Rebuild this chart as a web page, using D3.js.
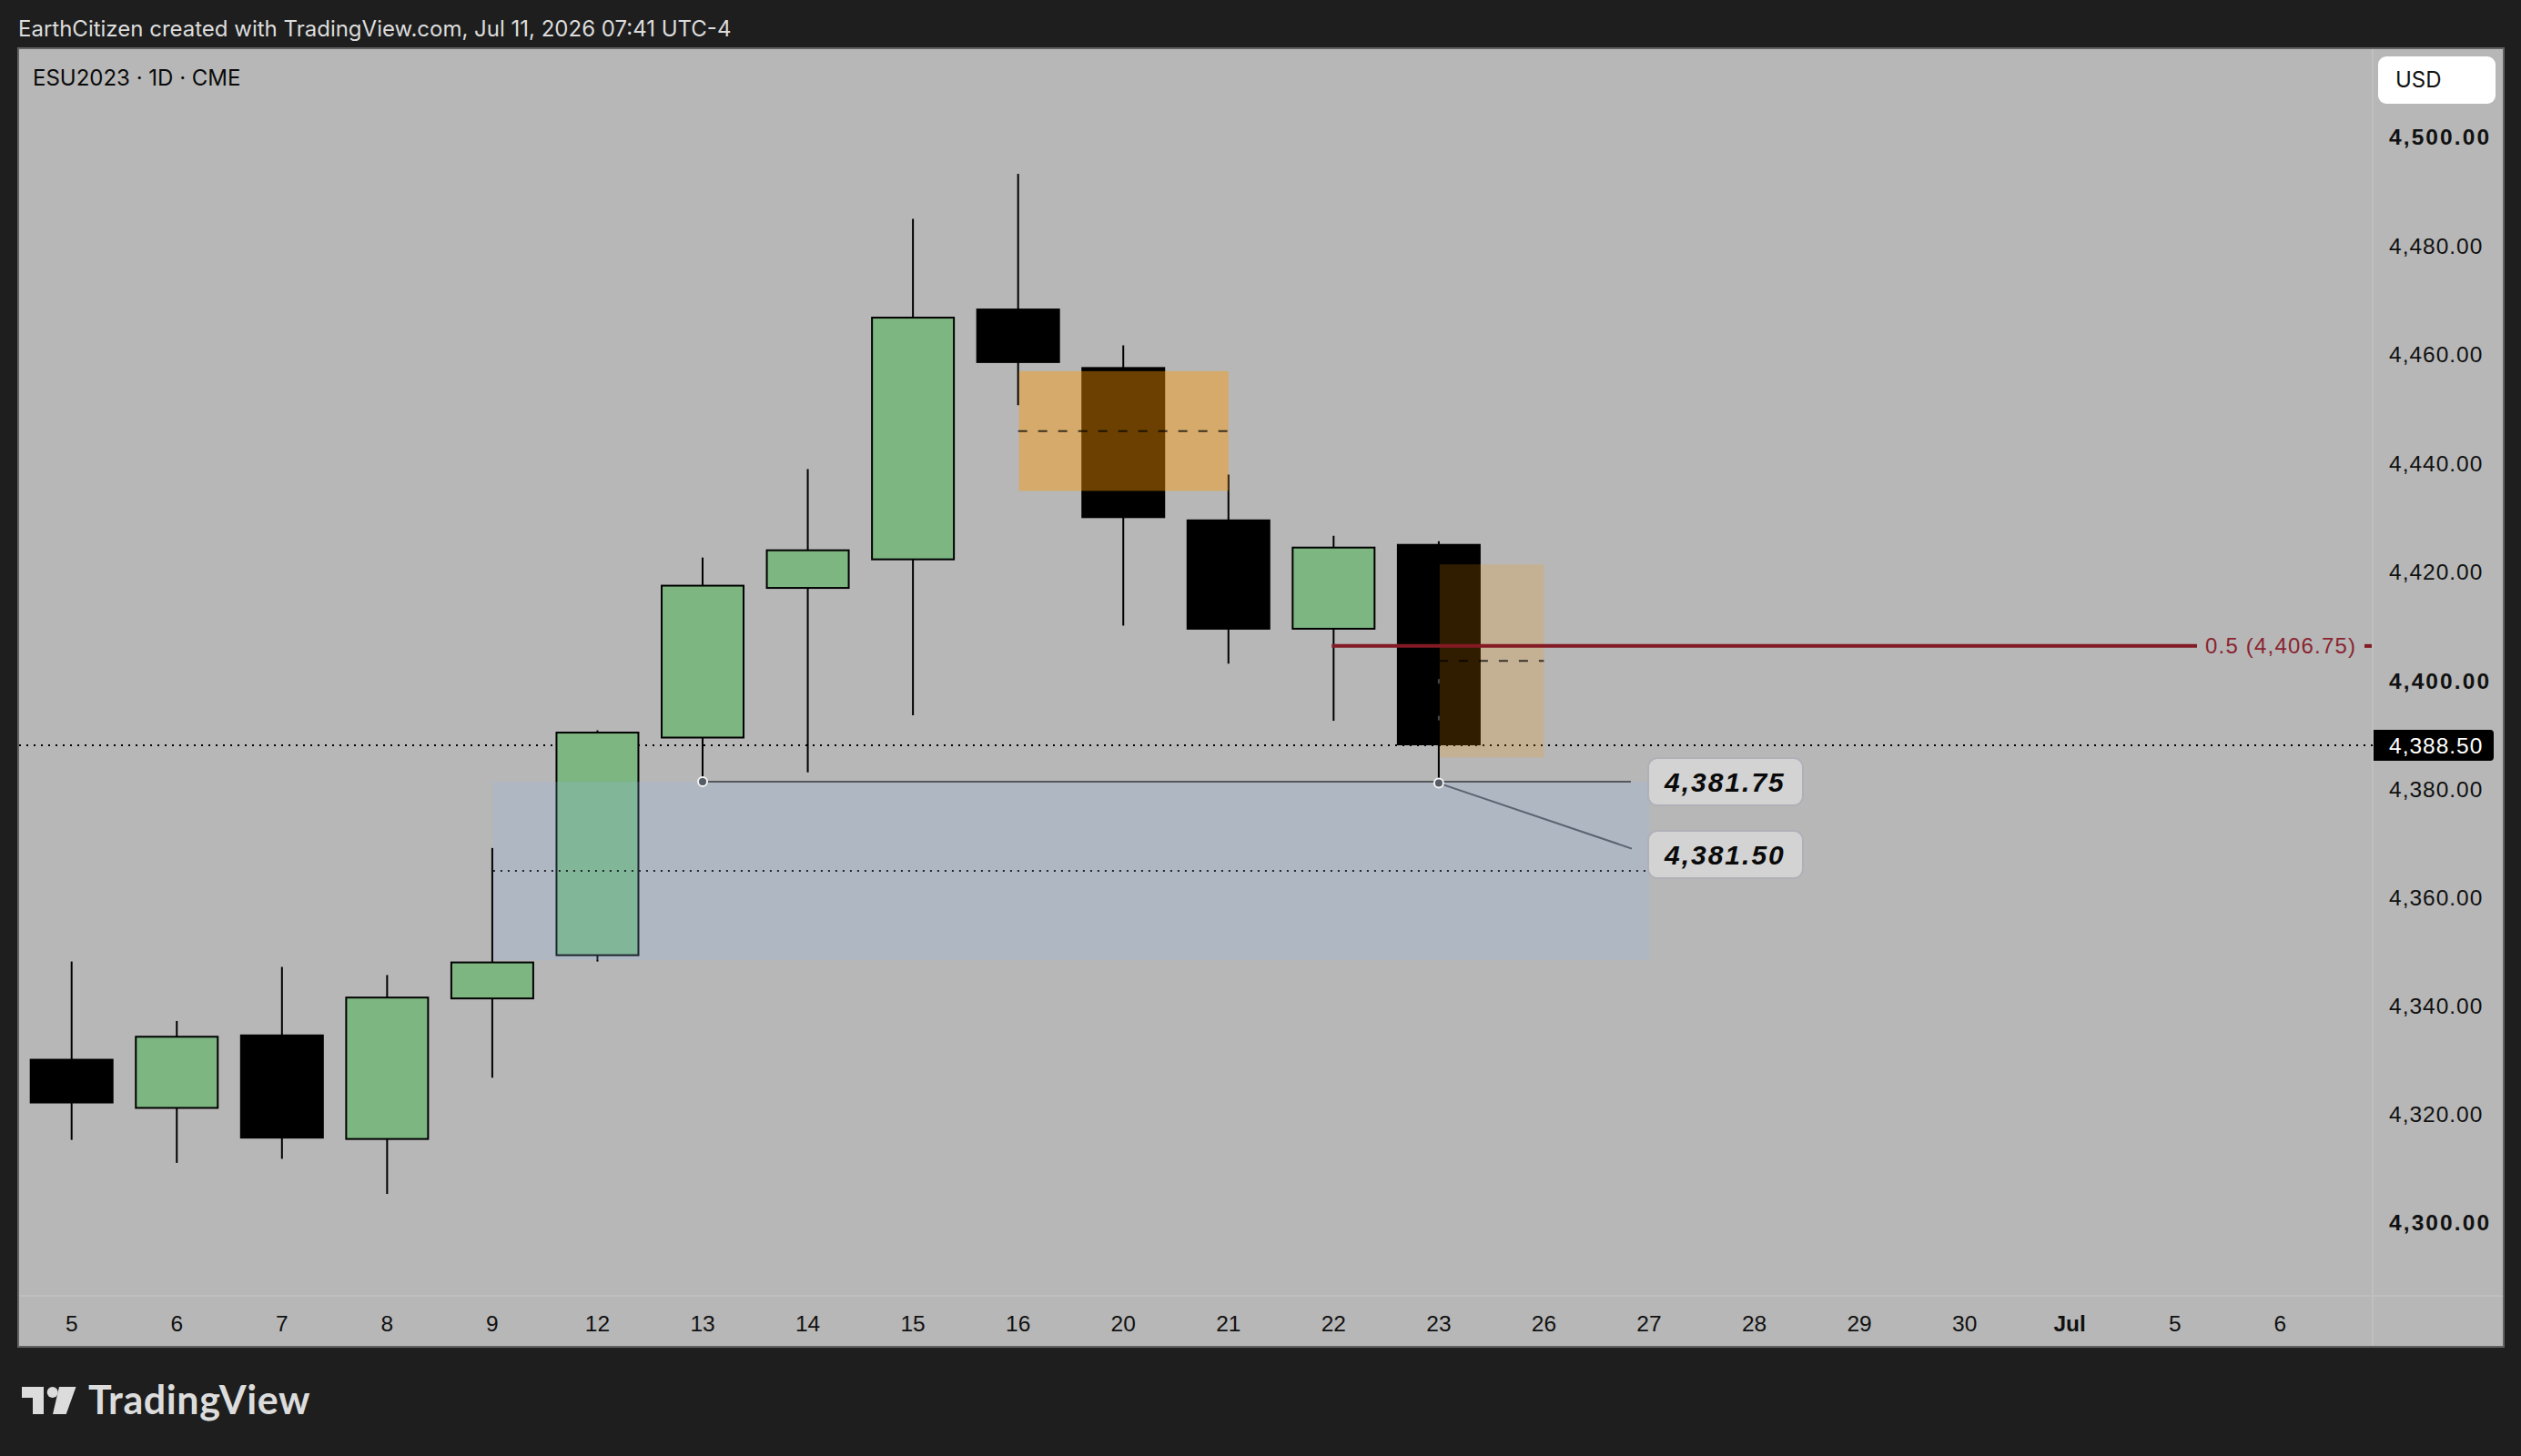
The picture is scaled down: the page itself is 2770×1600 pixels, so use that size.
<!DOCTYPE html>
<html><head><meta charset="utf-8">
<script src="https://cdn.jsdelivr.net/npm/d3@7/dist/d3.min.js"></script>
<style>html,body{margin:0;padding:0;background:#1e1e1e;overflow:hidden}svg{display:block}</style>
</head><body><svg id="c" width="2770" height="1600"></svg>
<script>
// ---- data ----
const dayLabels = ["5","6","7","8","9","12","13","14","15","16","20","21","22","23","26","27","28","29","30","Jul","5","6"];
const opens  = [4330.5,4321.25,4335,4315.5,4341.5,4349.5,4389.75,4417.25,4422.5,4468.75,4458,4430,4409.75,4425.5];
const highs  = [4348.5,4337.5,4347.5,4346,4369.5,4391.25,4423,4439.25,4485.25,4493.5,4462,4438.25,4427,4426];
const lows   = [4315.5,4311.25,4312,4305.5,4327,4348.5,4381.75,4383.5,4394,4451,4410.5,4403.5,4393,4381.5];
const closes = [4322.25,4334.75,4315.75,4342,4348.5,4391,4418,4424.5,4467.25,4458.75,4430.25,4409.75,4425,4388.5];
const priceTicks = [4300,4320,4340,4360,4380,4400,4420,4440,4460,4480,4500];
const boldTicks = [4300,4400,4500];
const lastPrice = 4388.5;
const zoneBlue = {from:4, to:15, top:4381.75, bottom:4348.75, mid:4365.25};
const zonesOrange = [{from:9, to:11, top:4457.25, bottom:4435.25, mid:4446.25, alpha:.42},
                     {from:13,to:14, top:4421.75, bottom:4386.25, mid:4404, alpha:.19}];
const fibValue = 4406.75, fibFrom = 12;
const calloutValues = [4381.75, 4381.5];
const calloutFrom = [6, 13];
const wickMarks = [4400.25, 4393.5];

// ---- layout ----
const P = {l:21, t:54, r:2750, b:1479, axisX:2607, axisY:1424};
const svg = d3.select("#c");
const y = d3.scaleLinear().domain([4300,4388.5,4500]).range([1344.7,819,152.2]);
const x = d3.scalePoint().domain(d3.range(dayLabels.length)).range([78.7,2505.3]);
const fmt = d3.format(",.2f");
const AX = "'Liberation Sans',Arial,sans-serif", UI = "Inter,'Liberation Sans',sans-serif";

svg.append("rect").attr("width",2770).attr("height",1600).attr("fill","#1e1e1e");
svg.append("rect").attr("x",P.l-1).attr("y",P.t-1).attr("width",P.r-P.l+2).attr("height",P.b-P.t+2)
  .attr("fill","#b7b7b7").attr("stroke","#626262").attr("stroke-width",2);
svg.append("line").attr("x1",P.axisX).attr("x2",P.axisX).attr("y1",P.t).attr("y2",P.b).attr("stroke","#bfbfbf").attr("stroke-width",2);
svg.append("line").attr("x1",P.l).attr("x2",P.r).attr("y1",P.axisY).attr("y2",P.axisY).attr("stroke","#bfbfbf").attr("stroke-width",2);

svg.append("text").attr("x",20).attr("y",40).attr("fill","#dcdcdc").attr("font-family",UI).attr("font-size",24)
  .text("EarthCitizen created with TradingView.com, Jul 11, 2026 07:41 UTC-4");
svg.append("text").attr("x",36).attr("y",94).attr("fill","#0a0a0a").attr("font-family",UI).attr("font-size",24)
  .text("ESU2023 · 1D · CME");

// last price dotted line
svg.append("line").attr("x1",P.l).attr("x2",P.axisX).attr("y1",y(lastPrice)).attr("y2",y(lastPrice))
  .attr("stroke","#000").attr("stroke-width",2).attr("stroke-dasharray","2 6");

// candles
const bw = 92, n = opens.length;
const g = svg.append("g");
const cd = d3.range(n).map(i=>({i,o:opens[i],h:highs[i],l:lows[i],c:closes[i]}));
g.selectAll("line.w").data(cd).join("line").attr("class","w")
  .attr("x1",d=>x(d.i)).attr("x2",d=>x(d.i)).attr("y1",d=>y(d.h)).attr("y2",d=>y(d.l))
  .attr("stroke","#000").attr("stroke-width",2);
g.selectAll("rect.b").data(cd).join("rect").attr("class","b")
  .attr("x",d=>x(d.i)-bw/2+1).attr("width",bw-2)
  .attr("y",d=>y(Math.max(d.o,d.c))+1).attr("height",d=>Math.abs(y(d.o)-y(d.c))-2)
  .attr("fill",d=>d.c>=d.o?"#7db681":"#000").attr("stroke","#000").attr("stroke-width",2);

// blue zone
svg.append("rect").attr("x",x(zoneBlue.from)+1).attr("width",x(zoneBlue.to)-x(zoneBlue.from)-1)
  .attr("y",y(zoneBlue.top)).attr("height",y(zoneBlue.bottom)-y(zoneBlue.top))
  .attr("fill","rgb(146,183,243)").attr("fill-opacity",.2);
svg.append("line").attr("x1",x(zoneBlue.from)+1).attr("x2",x(zoneBlue.to)).attr("y1",y(zoneBlue.mid)).attr("y2",y(zoneBlue.mid))
  .attr("stroke","#20242c").attr("stroke-width",2).attr("stroke-dasharray","2 6");

// orange zones
zonesOrange.forEach(z=>{
  svg.append("rect").attr("x",x(z.from)+1).attr("width",x(z.to)-x(z.from)-1)
    .attr("y",y(z.top)).attr("height",y(z.bottom)-y(z.top))
    .attr("fill","rgb(255,152,0)").attr("fill-opacity",z.alpha);
  svg.append("line").attr("x1",x(z.from)).attr("x2",x(z.to)).attr("y1",y(z.mid)).attr("y2",y(z.mid))
    .attr("stroke","#000").attr("stroke-opacity",.72).attr("stroke-width",2).attr("stroke-dasharray","10 12");
});

// small marks on the wick of the last candle
svg.selectAll("rect.m").data(wickMarks).join("rect").attr("class","m")
  .attr("x",x(13)-1).attr("width",2).attr("y",d=>y(d)-2.5).attr("height",5).attr("fill","#484848");

// fib line with label
const fy = y(fibValue);
svg.append("line").attr("x1",x(fibFrom)-2).attr("x2",2414).attr("y1",fy).attr("y2",fy).attr("stroke","#831a24").attr("stroke-width",4);
svg.append("line").attr("x1",2598).attr("x2",P.axisX-1).attr("y1",fy).attr("y2",fy).attr("stroke","#831a24").attr("stroke-width",4);
svg.append("text").attr("x",2423).attr("y",fy+8).attr("fill","#8a2430").attr("font-family",AX).attr("font-size",24)
  .attr("letter-spacing",1.2).text(`0.5 (${fmt(fibValue)})`);

// callouts
const cx = x(15);
const hy = y(calloutValues[0]);
svg.append("line").attr("x1",x(calloutFrom[0])).attr("x2",cx-20).attr("y1",hy).attr("y2",hy).attr("stroke","#55585c").attr("stroke-width",2);
svg.append("line").attr("x1",x(calloutFrom[1])).attr("x2",cx-19).attr("y1",y(calloutValues[1])).attr("y2",y(calloutValues[1])+72)
  .attr("stroke","#5b6270").attr("stroke-width",2);
[[calloutFrom[0],calloutValues[0]],[calloutFrom[1],calloutValues[1]]].forEach(p=>{
  svg.append("circle").attr("cx",x(p[0])).attr("cy",y(p[1])).attr("r",5).attr("fill","#555c66").attr("stroke","#f2f2f2").attr("stroke-width",2);
});
calloutValues.forEach((v,i)=>{
  const cy = i===0 ? hy : hy+80;
  svg.append("rect").attr("x",cx-1).attr("y",cy-26).attr("width",170).attr("height",52).attr("rx",10)
    .attr("fill","#d3d3d3").attr("stroke","#b0b0b8").attr("stroke-width",2);
  svg.append("text").attr("x",cx+17).attr("y",cy+11).attr("font-family",AX).attr("font-size",30).attr("font-weight",700).attr("font-style","italic")
    .attr("letter-spacing",2).attr("fill","#0a0a0a").text(fmt(v));
});

// price axis
const yAxis = d3.axisRight(y).tickValues(priceTicks).tickSize(0).tickPadding(18).tickFormat(fmt);
const ya = svg.append("g").attr("transform",`translate(${P.axisX},-1.5)`).call(yAxis);
ya.select(".domain").remove();
ya.selectAll("text").attr("font-family",AX).attr("font-size",24.5).attr("fill","#111")
  .attr("letter-spacing",d=>boldTicks.includes(d)?2.1:1)
  .attr("font-weight",d=>boldTicks.includes(d)?700:400);

// last price tag
const tag = d3.path(), ta=P.axisX+1, tb=2740, tt=y(lastPrice)-17, tu=y(lastPrice)+17;
tag.moveTo(ta,tt);tag.lineTo(tb-4,tt);tag.arcTo(tb,tt,tb,tt+4,4);tag.lineTo(tb,tu-4);tag.arcTo(tb,tu,tb-4,tu,4);tag.lineTo(ta,tu);tag.closePath();
svg.append("path").attr("d",tag.toString()).attr("fill","#000");
svg.append("text").attr("x",P.axisX+18).attr("y",y(lastPrice)+8.5).attr("fill","#fff").attr("font-family",AX).attr("font-size",24.5).attr("letter-spacing",1).text(fmt(lastPrice));

// USD button
svg.append("rect").attr("x",2613).attr("y",62).attr("width",129).attr("height",52).attr("rx",9).attr("fill","#fff");
svg.append("text").attr("x",2632).attr("y",96).attr("font-family",UI).attr("font-size",24).attr("fill","#111").text("USD");

// time axis
const xAxis = d3.axisBottom(x).tickSize(0).tickPadding(0).tickFormat(i=>dayLabels[i]);
const xa = svg.append("g").attr("transform",`translate(-0.5,${P.axisY+21.5})`).call(xAxis);
xa.select(".domain").remove();
xa.selectAll("text").attr("font-family",AX).attr("font-size",24.5).attr("fill","#111")
  .attr("font-weight",i=>dayLabels[i]==="Jul"?700:400);

// logo
svg.append("path").attr("fill","#dcdcdc").attr("d","M24 1524H48V1554H36V1536H24Z M65 1524H83.5L72.7 1554H58Z");
svg.append("circle").attr("cx",57.7).attr("cy",1530).attr("r",6).attr("fill","#dcdcdc");
svg.append("text").attr("x",97).attr("y",1554).attr("fill","#dcdcdc").attr("font-family","Lato,Inter,sans-serif").attr("font-weight",700).attr("font-size",43).attr("letter-spacing",.6).text("TradingView");
</script></body></html>
